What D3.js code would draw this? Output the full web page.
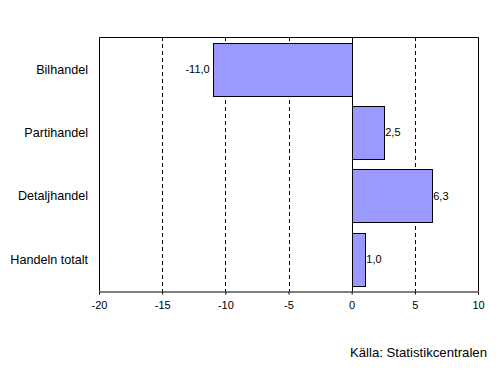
<!DOCTYPE html>
<html>
<head>
<meta charset="utf-8">
<script src="https://cdn.jsdelivr.net/npm/d3@7"></script>
<style>
  body { margin: 0; background: #fff; }
  text { font-family: Arial, "Liberation Sans", sans-serif; fill: #000; }
</style>
</head>
<body>
<div class="plot-container"></div>
<script>
const categories = ["Bilhandel", "Partihandel", "Detaljhandel", "Handeln totalt"];
const values = [-11.0, 2.5, 6.3, 1.0];
const xTicks = [-20, -15, -10, -5, 0, 5, 10];
const sourceText = "Källa: Statistikcentralen";

const width = 504, height = 372;
const margin = { top: 37, right: 26, bottom: 81, left: 99 };
const plotW = width - margin.left - margin.right;
const plotH = height - margin.top - margin.bottom;

const svg = d3.select("div.plot-container")
  .append("svg")
  .attr("width", width)
  .attr("height", height);

const g = svg.append("g")
  .attr("transform", `translate(${margin.left}, ${margin.top})`);

const x = d3.scaleLinear().domain([-20, 10]).range([0, plotW]);
const y = d3.scaleBand().domain(categories).range([0, plotH]).paddingInner(0.17).paddingOuter(0.09);

const data = categories.map((c, i) => ({ cat: c, val: values[i] }));
const fmt = (v) => v.toFixed(1).replace(".", ",");

// dashed gridlines
g.selectAll("line.grid")
  .data(xTicks.filter(t => t !== -20 && t !== 0 && t !== 10))
  .join("line")
  .attr("class", "grid")
  .attr("x1", d => Math.round(x(d)) + 0.5)
  .attr("x2", d => Math.round(x(d)) + 0.5)
  .attr("y1", 0)
  .attr("y2", plotH)
  .attr("stroke", "#000")
  .attr("stroke-dasharray", "4,3");

// bars
g.selectAll("rect.bar")
  .data(data)
  .join("rect")
  .attr("class", "bar")
  .attr("x", d => Math.round(x(Math.min(0, d.val))) + 0.5)
  .attr("y", d => Math.round(y(d.cat)) + 0.5)
  .attr("width", d => Math.round(Math.abs(x(d.val) - x(0))))
  .attr("height", Math.round(y.bandwidth()))
  .attr("fill", "#9999ff")
  .attr("stroke", "#000")
  .attr("stroke-width", 1);

// value labels
g.selectAll("text.val")
  .data(data)
  .join("text")
  .attr("class", "val")
  .attr("x", d => d.val < 0 ? x(d.val) - 3 : x(d.val) + 2)
  .attr("y", d => y(d.cat) + y.bandwidth() / 2)
  .attr("dy", "0.35em")
  .attr("text-anchor", d => d.val < 0 ? "end" : "start")
  .attr("font-size", 11)
  .text(d => fmt(d.val));

// frame: left, top, right
const frame = d3.path();
frame.moveTo(0.5, plotH);
frame.lineTo(0.5, 0.5);
frame.lineTo(Math.round(plotW) + 0.5, 0.5);
frame.lineTo(Math.round(plotW) + 0.5, plotH);
g.append("path").attr("d", frame.toString()).attr("fill", "none").attr("stroke", "#000");

// zero line
g.append("line")
  .attr("x1", Math.round(x(0)) + 0.5).attr("x2", Math.round(x(0)) + 0.5)
  .attr("y1", 0).attr("y2", plotH)
  .attr("stroke", "#000");

// bottom axis
const xAxis = g.append("g")
  .attr("transform", `translate(0, ${Math.round(plotH) + 0.5})`)
  .call(d3.axisBottom(x).tickValues(xTicks).tickSize(3).tickPadding(7).tickFormat(d => d));
xAxis.select(".domain").attr("stroke", "#000");
xAxis.selectAll("line").attr("stroke", "#000");
xAxis.selectAll("text").attr("fill", "#000").attr("font-size", 11).attr("font-family", "Arial, 'Liberation Sans', sans-serif");

// category labels
g.selectAll("text.cat")
  .data(categories)
  .join("text")
  .attr("class", "cat")
  .attr("x", -11)
  .attr("y", d => y(d) + y.bandwidth() / 2)
  .attr("dy", "0.38em")
  .attr("text-anchor", "end")
  .attr("font-size", 12.6)
  .text(d => d);

// source note
svg.append("text")
  .attr("x", 487)
  .attr("y", 357)
  .attr("text-anchor", "end")
  .attr("font-size", 13.2)
  .text(sourceText);
</script>
</body>
</html>
